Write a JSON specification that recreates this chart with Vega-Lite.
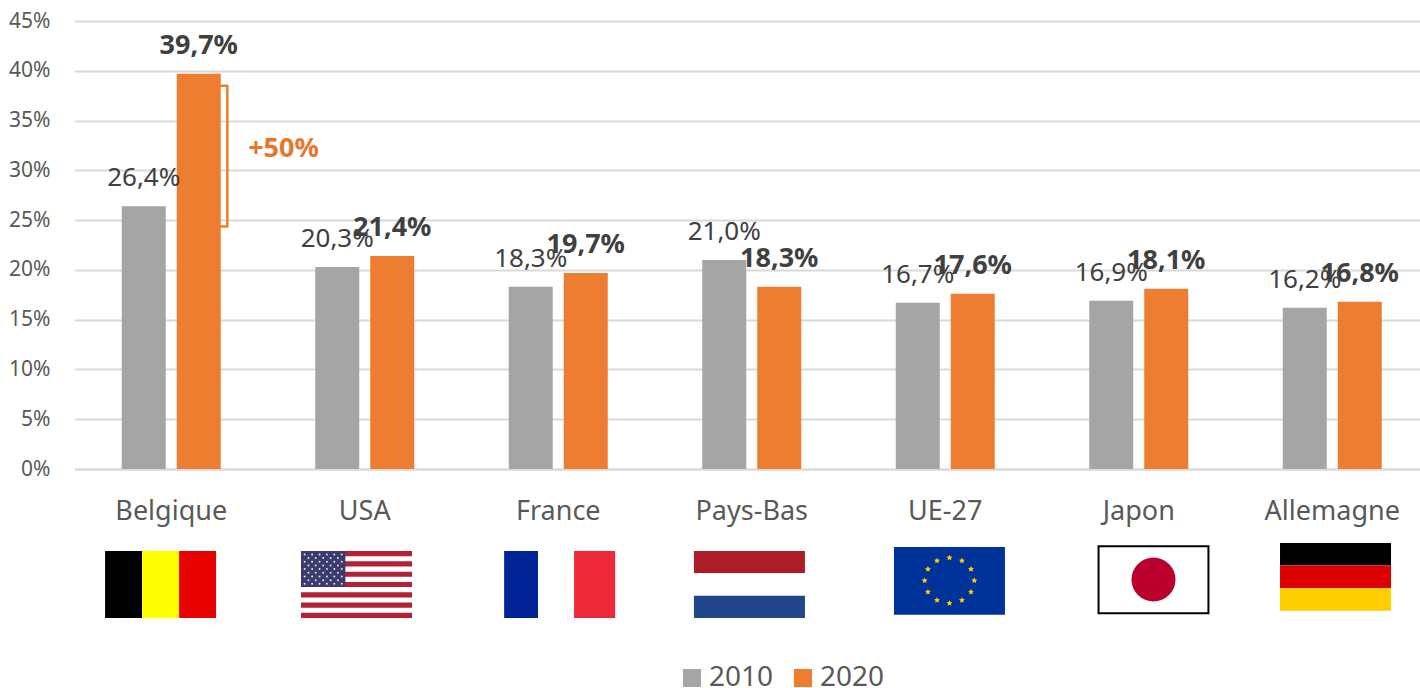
{"$schema":"https://vega.github.io/schema/vega-lite/v6.json","background":"white","padding":{"left":8,"top":10,"right":0,"bottom":0},"config":{"font":"Noto Sans","view":{"stroke":null},"concat":{"spacing":19}},"datasets":{"parts":[{"pays":"Belgique","annee":"2010","part":26.4,"etiquette":"26,4%"},{"pays":"Belgique","annee":"2020","part":39.7,"etiquette":"39,7%"},{"pays":"USA","annee":"2010","part":20.3,"etiquette":"20,3%"},{"pays":"USA","annee":"2020","part":21.4,"etiquette":"21,4%"},{"pays":"France","annee":"2010","part":18.3,"etiquette":"18,3%"},{"pays":"France","annee":"2020","part":19.7,"etiquette":"19,7%"},{"pays":"Pays-Bas","annee":"2010","part":21.0,"etiquette":"21,0%"},{"pays":"Pays-Bas","annee":"2020","part":18.3,"etiquette":"18,3%"},{"pays":"UE-27","annee":"2010","part":16.7,"etiquette":"16,7%"},{"pays":"UE-27","annee":"2020","part":17.6,"etiquette":"17,6%"},{"pays":"Japon","annee":"2010","part":16.9,"etiquette":"16,9%"},{"pays":"Japon","annee":"2020","part":18.1,"etiquette":"18,1%"},{"pays":"Allemagne","annee":"2010","part":16.2,"etiquette":"16,2%"},{"pays":"Allemagne","annee":"2020","part":16.8,"etiquette":"16,8%"}],"origines":[{"drapeau":"Belgique","ox":28,"oy":12},{"drapeau":"USA","ox":204.5,"oy":12},{"drapeau":"France","ox":387.5,"oy":12},{"drapeau":"Pays-Bas","ox":558.5,"oy":12},{"drapeau":"UE-27","ox":738.7,"oy":6},{"drapeau":"Japon","ox":922.5,"oy":4.5},{"drapeau":"Allemagne","ox":1086.5,"oy":0}],"bandes":[{"drapeau":"Belgique","fx0":0,"fx1":33.4,"fy0":0,"fy1":100,"teinte":"noir"},{"drapeau":"Belgique","fx0":33.4,"fx1":66.7,"fy0":0,"fy1":100,"teinte":"jaune"},{"drapeau":"Belgique","fx0":66.7,"fx1":100,"fy0":0,"fy1":100,"teinte":"rouge BE"},{"drapeau":"USA","fx0":0,"fx1":100,"fy0":0,"fy1":100,"teinte":"blanc"},{"drapeau":"USA","fx0":0,"fx1":100,"fy0":0,"fy1":7.7,"teinte":"rouge US"},{"drapeau":"USA","fx0":0,"fx1":100,"fy0":15.4,"fy1":23.1,"teinte":"rouge US"},{"drapeau":"USA","fx0":0,"fx1":100,"fy0":30.8,"fy1":38.5,"teinte":"rouge US"},{"drapeau":"USA","fx0":0,"fx1":100,"fy0":46.2,"fy1":53.8,"teinte":"rouge US"},{"drapeau":"USA","fx0":0,"fx1":100,"fy0":61.5,"fy1":69.2,"teinte":"rouge US"},{"drapeau":"USA","fx0":0,"fx1":100,"fy0":76.9,"fy1":84.6,"teinte":"rouge US"},{"drapeau":"USA","fx0":0,"fx1":100,"fy0":92.3,"fy1":100,"teinte":"rouge US"},{"drapeau":"USA","fx0":0,"fx1":40,"fy0":0,"fy1":53.8,"teinte":"marine US"},{"drapeau":"France","fx0":0,"fx1":30.6,"fy0":0,"fy1":100,"teinte":"bleu FR"},{"drapeau":"France","fx0":30.6,"fx1":63,"fy0":0,"fy1":100,"teinte":"blanc"},{"drapeau":"France","fx0":63,"fx1":100,"fy0":0,"fy1":100,"teinte":"rouge FR"},{"drapeau":"Pays-Bas","fx0":0,"fx1":100,"fy0":0,"fy1":33.3,"teinte":"rouge NL"},{"drapeau":"Pays-Bas","fx0":0,"fx1":100,"fy0":33.3,"fy1":66.7,"teinte":"blanc"},{"drapeau":"Pays-Bas","fx0":0,"fx1":100,"fy0":66.7,"fy1":100,"teinte":"bleu NL"},{"drapeau":"UE-27","fx0":0,"fx1":100,"fy0":0,"fy1":101,"teinte":"bleu UE"},{"drapeau":"Allemagne","fx0":0,"fx1":100,"fy0":0,"fy1":33.7,"teinte":"noir"},{"drapeau":"Allemagne","fx0":0,"fx1":100,"fy0":33.7,"fy1":67.4,"teinte":"rouge DE"},{"drapeau":"Allemagne","fx0":0,"fx1":100,"fy0":67.4,"fy1":101,"teinte":"or DE"}],"cadre":[{"drapeau":"Japon","fx0":0.5,"fx1":99.5,"fy0":0.5,"fy1":100.5}],"disque":[{"drapeau":"Japon","fx":50,"fy":50}],"etoilesUE":[{"drapeau":"UE-27","fx":50,"fy":16},{"drapeau":"UE-27","fx":61.2,"fy":20.6},{"drapeau":"UE-27","fx":69.4,"fy":33},{"drapeau":"UE-27","fx":72.4,"fy":50},{"drapeau":"UE-27","fx":69.4,"fy":67},{"drapeau":"UE-27","fx":61.2,"fy":79.4},{"drapeau":"UE-27","fx":50,"fy":84},{"drapeau":"UE-27","fx":38.8,"fy":79.4},{"drapeau":"UE-27","fx":30.6,"fy":67},{"drapeau":"UE-27","fx":27.6,"fy":50},{"drapeau":"UE-27","fx":30.6,"fy":33},{"drapeau":"UE-27","fx":38.8,"fy":20.6}],"etoilesUS":[{"drapeau":"USA","fx":3.3,"fy":5},{"drapeau":"USA","fx":10,"fy":5},{"drapeau":"USA","fx":16.7,"fy":5},{"drapeau":"USA","fx":23.3,"fy":5},{"drapeau":"USA","fx":30,"fy":5},{"drapeau":"USA","fx":36.7,"fy":5},{"drapeau":"USA","fx":6.7,"fy":10.5},{"drapeau":"USA","fx":13.3,"fy":10.5},{"drapeau":"USA","fx":20,"fy":10.5},{"drapeau":"USA","fx":26.7,"fy":10.5},{"drapeau":"USA","fx":33.3,"fy":10.5},{"drapeau":"USA","fx":3.3,"fy":16},{"drapeau":"USA","fx":10,"fy":16},{"drapeau":"USA","fx":16.7,"fy":16},{"drapeau":"USA","fx":23.3,"fy":16},{"drapeau":"USA","fx":30,"fy":16},{"drapeau":"USA","fx":36.7,"fy":16},{"drapeau":"USA","fx":6.7,"fy":21.5},{"drapeau":"USA","fx":13.3,"fy":21.5},{"drapeau":"USA","fx":20,"fy":21.5},{"drapeau":"USA","fx":26.7,"fy":21.5},{"drapeau":"USA","fx":33.3,"fy":21.5},{"drapeau":"USA","fx":3.3,"fy":27},{"drapeau":"USA","fx":10,"fy":27},{"drapeau":"USA","fx":16.7,"fy":27},{"drapeau":"USA","fx":23.3,"fy":27},{"drapeau":"USA","fx":30,"fy":27},{"drapeau":"USA","fx":36.7,"fy":27},{"drapeau":"USA","fx":6.7,"fy":32.5},{"drapeau":"USA","fx":13.3,"fy":32.5},{"drapeau":"USA","fx":20,"fy":32.5},{"drapeau":"USA","fx":26.7,"fy":32.5},{"drapeau":"USA","fx":33.3,"fy":32.5},{"drapeau":"USA","fx":3.3,"fy":38},{"drapeau":"USA","fx":10,"fy":38},{"drapeau":"USA","fx":16.7,"fy":38},{"drapeau":"USA","fx":23.3,"fy":38},{"drapeau":"USA","fx":30,"fy":38},{"drapeau":"USA","fx":36.7,"fy":38},{"drapeau":"USA","fx":6.7,"fy":43.5},{"drapeau":"USA","fx":13.3,"fy":43.5},{"drapeau":"USA","fx":20,"fy":43.5},{"drapeau":"USA","fx":26.7,"fy":43.5},{"drapeau":"USA","fx":33.3,"fy":43.5},{"drapeau":"USA","fx":3.3,"fy":49},{"drapeau":"USA","fx":10,"fy":49},{"drapeau":"USA","fx":16.7,"fy":49},{"drapeau":"USA","fx":23.3,"fy":49},{"drapeau":"USA","fx":30,"fy":49},{"drapeau":"USA","fx":36.7,"fy":49}],"accolade":[{"rang":1,"rx":0.69,"part":38.5},{"rang":2,"rx":0.79,"part":38.5},{"rang":3,"rx":0.79,"part":24.35},{"rang":4,"rx":0.69,"part":24.35}],"hausse":[{"rx":1.08,"part":32.1,"texte":"+50%"}]},"vconcat":[{"width":1346,"height":448,"resolve":{"scale":{"x":"independent"}},"layer":[{"data":{"name":"parts"},"mark":{"type":"bar","width":44},"encoding":{"x":{"field":"pays","type":"nominal","sort":null,"scale":{"domain":["Belgique","USA","France","Pays-Bas","UE-27","Japon","Allemagne"],"range":[1.5,1356],"paddingInner":0,"paddingOuter":0},"axis":{"title":null,"labelAngle":0,"ticks":false,"labelFontSize":27,"labelColor":"#595959","labelPadding":29,"domainColor":"#d9d9d9","domainWidth":2,"grid":false}},"xOffset":{"field":"annee","type":"nominal","scale":{"paddingInner":0.2,"paddingOuter":0.859}},"y":{"field":"part","type":"quantitative","scale":{"domain":[0,45]},"axis":{"title":null,"values":[0,5,10,15,20,25,30,35,40,45],"labelExpr":"datum.value + '%'","ticks":false,"domain":false,"labelFontSize":21,"labelColor":"#595959","labelPadding":23,"grid":true,"gridColor":"#d9d9d9","gridWidth":2}},"color":{"field":"annee","type":"nominal","scale":{"domain":["2010","2020"],"range":["#a5a5a5","#ed7d31"]},"legend":{"title":null,"orient":"none","direction":"horizontal","legendX":605,"legendY":643,"symbolType":"square","symbolSize":324,"symbolStrokeWidth":0,"labelFontSize":28,"labelColor":"#595959","columnPadding":15,"labelOffset":3}}}},{"data":{"name":"parts"},"transform":[{"filter":"datum.annee == '2010'"}],"mark":{"type":"text","fontSize":26,"color":"#404040","dy":-28},"encoding":{"x":{"field":"pays","type":"nominal","sort":null,"scale":{"domain":["Belgique","USA","France","Pays-Bas","UE-27","Japon","Allemagne"],"range":[1.5,1356],"paddingInner":0,"paddingOuter":0},"axis":null},"xOffset":{"datum":"2010","scale":{"domain":["2010","2020"],"paddingInner":0.2,"paddingOuter":0.859}},"y":{"field":"part","type":"quantitative"},"text":{"field":"etiquette"}}},{"data":{"name":"parts"},"transform":[{"filter":"datum.annee == '2020'"}],"mark":{"type":"text","fontSize":27,"fontWeight":"bold","color":"#404040","dy":-28},"encoding":{"x":{"field":"pays","type":"nominal","sort":null,"scale":{"domain":["Belgique","USA","France","Pays-Bas","UE-27","Japon","Allemagne"],"range":[1.5,1356],"paddingInner":0,"paddingOuter":0},"axis":null},"xOffset":{"datum":"2020","scale":{"domain":["2010","2020"],"paddingInner":0.2,"paddingOuter":0.859}},"y":{"field":"part","type":"quantitative"},"text":{"field":"etiquette"}}},{"data":{"name":"accolade"},"mark":{"type":"line","color":"#ed7d31","strokeWidth":2.5,"strokeJoin":"round"},"encoding":{"x":{"field":"rx","type":"quantitative","scale":{"domain":[0,7],"range":[1.5,1356]},"axis":null},"y":{"field":"part","type":"quantitative"},"order":{"field":"rang"}}},{"data":{"name":"hausse"},"mark":{"type":"text","fontSize":27,"fontWeight":"bold","color":"#e8762d"},"encoding":{"x":{"field":"rx","type":"quantitative","scale":{"domain":[0,7],"range":[1.5,1356]},"axis":null},"y":{"field":"part","type":"quantitative"},"text":{"field":"texte"}}}]},{"width":1346,"height":75,"transform":[{"lookup":"drapeau","from":{"data":{"name":"origines"},"key":"drapeau","fields":["ox","oy"]}}],"layer":[{"data":{"name":"bandes"},"transform":[{"lookup":"drapeau","from":{"data":{"name":"origines"},"key":"drapeau","fields":["ox","oy"]}},{"calculate":"datum.ox + datum.fx0","as":"gauche"},{"calculate":"datum.ox + datum.fx1","as":"droite"},{"calculate":"datum.oy + datum.fy0","as":"haut"},{"calculate":"datum.oy + datum.fy1","as":"bas"}],"mark":{"type":"rect"},"encoding":{"x":{"field":"gauche","type":"quantitative","scale":{"domain":[-0.9,1211.7],"nice":false},"axis":null},"x2":{"field":"droite"},"y":{"field":"haut","type":"quantitative","scale":{"domain":[0,112],"reverse":true,"nice":false},"axis":null},"y2":{"field":"bas"},"fill":{"field":"teinte","type":"nominal","legend":null,"scale":{"domain":["noir","jaune","rouge BE","blanc","rouge US","marine US","bleu FR","rouge FR","rouge NL","bleu NL","bleu UE","rouge DE","or DE"],"range":["#000000","#ffff00","#e60000","#ffffff","#b22234","#3c3b6e","#002395","#ed2939","#ae1c28","#21468b","#003399","#dd0000","#ffce00"]}}}},{"data":{"name":"cadre"},"transform":[{"lookup":"drapeau","from":{"data":{"name":"origines"},"key":"drapeau","fields":["ox","oy"]}},{"calculate":"datum.ox + datum.fx0","as":"gauche"},{"calculate":"datum.ox + datum.fx1","as":"droite"},{"calculate":"datum.oy + datum.fy0","as":"haut"},{"calculate":"datum.oy + datum.fy1","as":"bas"}],"mark":{"type":"rect","fill":"#ffffff","stroke":"#000000","strokeWidth":2},"encoding":{"x":{"field":"gauche","type":"quantitative"},"x2":{"field":"droite"},"y":{"field":"haut","type":"quantitative"},"y2":{"field":"bas"}}},{"data":{"name":"disque"},"transform":[{"lookup":"drapeau","from":{"data":{"name":"origines"},"key":"drapeau","fields":["ox","oy"]}},{"calculate":"datum.ox + datum.fx","as":"cx"},{"calculate":"datum.oy + datum.fy","as":"cy"}],"mark":{"type":"point","shape":"circle","filled":true,"opacity":1,"size":1936,"color":"#bc002d"},"encoding":{"x":{"field":"cx","type":"quantitative"},"y":{"field":"cy","type":"quantitative"}}},{"data":{"name":"etoilesUE"},"transform":[{"lookup":"drapeau","from":{"data":{"name":"origines"},"key":"drapeau","fields":["ox","oy"]}},{"calculate":"datum.ox + datum.fx","as":"cx"},{"calculate":"datum.oy + datum.fy","as":"cy"}],"mark":{"type":"point","shape":"M0,-1L0.294,-0.405L0.951,-0.309L0.476,0.155L0.588,0.809L0,0.5L-0.588,0.809L-0.476,0.155L-0.951,-0.309L-0.294,-0.405Z","filled":true,"opacity":1,"size":38,"color":"#ffcc00"},"encoding":{"x":{"field":"cx","type":"quantitative"},"y":{"field":"cy","type":"quantitative"}}},{"data":{"name":"etoilesUS"},"transform":[{"lookup":"drapeau","from":{"data":{"name":"origines"},"key":"drapeau","fields":["ox","oy"]}},{"calculate":"datum.ox + datum.fx","as":"cx"},{"calculate":"datum.oy + datum.fy","as":"cy"}],"mark":{"type":"point","shape":"circle","filled":true,"opacity":0.85,"size":4,"color":"#ffffff"},"encoding":{"x":{"field":"cx","type":"quantitative"},"y":{"field":"cy","type":"quantitative"}}}]}]}
